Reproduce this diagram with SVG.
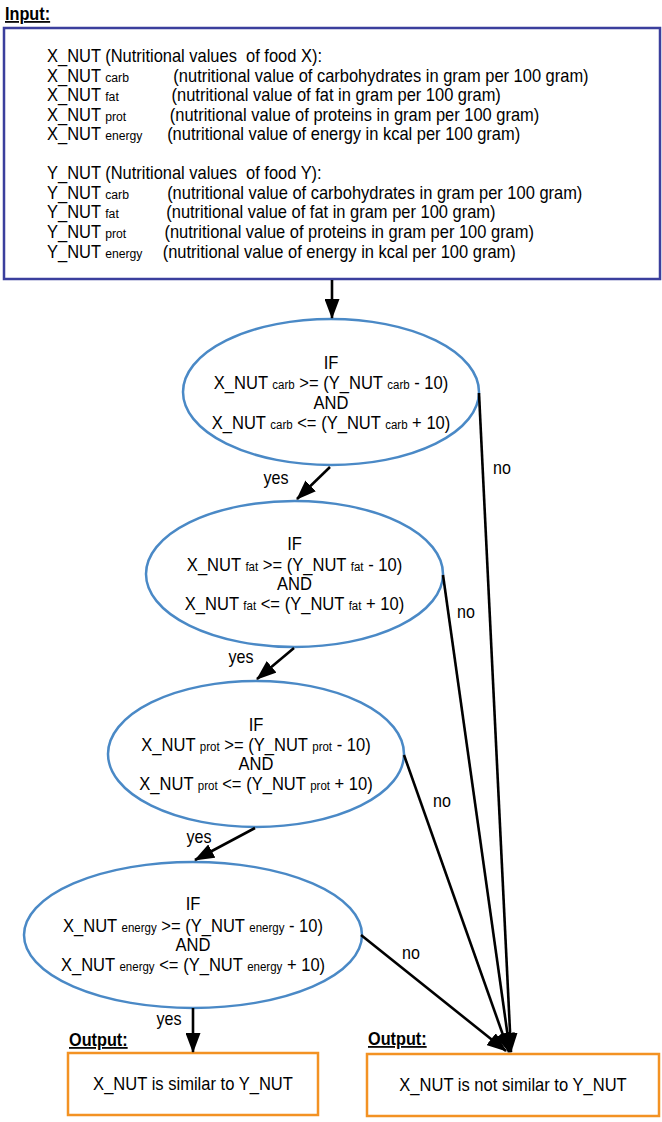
<svg xmlns="http://www.w3.org/2000/svg" width="662" height="1122" viewBox="0 0 662 1122">
  <style>
    text { font-family: "Liberation Sans", Arial, sans-serif; fill: #000; white-space: pre; }
    .hdr { font-size: 17.5px; font-weight: bold; text-decoration: underline; }
    .in { font-size: 18.5px; }
    .insub { font-size: 13.7px; }
    .cond { font-size: 18px; text-anchor: middle; }
    .sub { font-size: 12.5px; }
    .lbl { font-size: 17.5px; text-anchor: middle; }
    .out { font-size: 18px; text-anchor: middle; }
    .inbox { fill: #fff; stroke: #3b3f9d; stroke-width: 2.5; }
    .test { fill: #fff; stroke: #4a89c6; stroke-width: 2.5; }
    .outbox { fill: #fff; stroke: #f39223; stroke-width: 2.5; }
    .edge { fill: none; stroke: #000; stroke-width: 2.6; }
  </style>
  <defs>
    <marker id="head" markerUnits="userSpaceOnUse" markerWidth="20" markerHeight="15" viewBox="0 0 20 15" refX="19" refY="7.5" orient="auto">
      <path d="M0,0 L20,7.5 L0,15 Z" fill="#000"/>
    </marker>
  </defs>

  <!-- input block -->
  <g id="input">
    <text class="hdr" transform="translate(5 20) scale(0.93 1)">Input:</text>
    <rect class="inbox" x="4" y="28" width="656" height="251"/>
    <g transform="matrix(0.89 0 0 1 47 0)">
      <text class="in" x="0" y="62">X_NUT (Nutritional values  of food X):</text>
      <text class="in" x="0" y="82">X_NUT <tspan class="insub">carb</tspan></text>
      <text class="in" x="142" y="82">(nutritional value of carbohydrates in gram per 100 gram)</text>
      <text class="in" x="0" y="101">X_NUT <tspan class="insub">fat</tspan></text>
      <text class="in" x="140" y="101">(nutritional value of fat in gram per 100 gram)</text>
      <text class="in" x="0" y="121">X_NUT <tspan class="insub">prot</tspan></text>
      <text class="in" x="138" y="121">(nutritional value of proteins in gram per 100 gram)</text>
      <text class="in" x="0" y="140">X_NUT <tspan class="insub">energy</tspan></text>
      <text class="in" x="135" y="140">(nutritional value of energy in kcal per 100 gram)</text>

      <text class="in" x="0" y="179">Y_NUT (Nutritional values  of food Y):</text>
      <text class="in" x="0" y="199">Y_NUT <tspan class="insub">carb</tspan></text>
      <text class="in" x="135" y="199">(nutritional value of carbohydrates in gram per 100 gram)</text>
      <text class="in" x="0" y="218">Y_NUT <tspan class="insub">fat</tspan></text>
      <text class="in" x="134" y="218">(nutritional value of fat in gram per 100 gram)</text>
      <text class="in" x="0" y="238">Y_NUT <tspan class="insub">prot</tspan></text>
      <text class="in" x="132" y="238">(nutritional value of proteins in gram per 100 gram)</text>
      <text class="in" x="0" y="258">Y_NUT <tspan class="insub">energy</tspan></text>
      <text class="in" x="130" y="258">(nutritional value of energy in kcal per 100 gram)</text>
    </g>
  </g>

  <!-- decision: carbohydrates -->
  <g id="test-carb">
    <ellipse class="test" cx="331" cy="392" rx="148" ry="73"/>
    <g transform="translate(331 0) scale(0.92 1)">
      <text class="cond" x="0" y="369">IF</text>
      <text class="cond" x="0" y="389">X_NUT <tspan class="sub">carb</tspan> &gt;= (Y_NUT <tspan class="sub">carb</tspan> - 10)</text>
      <text class="cond" x="0" y="409">AND</text>
      <text class="cond" x="0" y="429">X_NUT <tspan class="sub">carb</tspan> &lt;= (Y_NUT <tspan class="sub">carb</tspan> + 10)</text>
    </g>
  </g>

  <!-- decision: fat -->
  <g id="test-fat">
    <ellipse class="test" cx="294.5" cy="574" rx="148.5" ry="73"/>
    <g transform="translate(294.5 0) scale(0.92 1)">
      <text class="cond" x="0" y="550">IF</text>
      <text class="cond" x="0" y="571">X_NUT <tspan class="sub">fat</tspan> &gt;= (Y_NUT <tspan class="sub">fat</tspan> - 10)</text>
      <text class="cond" x="0" y="590">AND</text>
      <text class="cond" x="0" y="610">X_NUT <tspan class="sub">fat</tspan> &lt;= (Y_NUT <tspan class="sub">fat</tspan> + 10)</text>
    </g>
  </g>

  <!-- decision: proteins -->
  <g id="test-prot">
    <ellipse class="test" cx="256" cy="754" rx="148" ry="73"/>
    <g transform="translate(256 0) scale(0.92 1)">
      <text class="cond" x="0" y="731">IF</text>
      <text class="cond" x="0" y="751">X_NUT <tspan class="sub">prot</tspan> &gt;= (Y_NUT <tspan class="sub">prot</tspan> - 10)</text>
      <text class="cond" x="0" y="770">AND</text>
      <text class="cond" x="0" y="790">X_NUT <tspan class="sub">prot</tspan> &lt;= (Y_NUT <tspan class="sub">prot</tspan> + 10)</text>
    </g>
  </g>

  <!-- decision: energy -->
  <g id="test-energy">
    <ellipse class="test" cx="193" cy="935" rx="169" ry="73"/>
    <g transform="translate(193 0) scale(0.92 1)">
      <text class="cond" x="0" y="910">IF</text>
      <text class="cond" x="0" y="932">X_NUT <tspan class="sub">energy</tspan> &gt;= (Y_NUT <tspan class="sub">energy</tspan> - 10)</text>
      <text class="cond" x="0" y="951">AND</text>
      <text class="cond" x="0" y="971">X_NUT <tspan class="sub">energy</tspan> &lt;= (Y_NUT <tspan class="sub">energy</tspan> + 10)</text>
    </g>
  </g>

  <!-- results -->
  <g id="out-similar">
    <text class="hdr" transform="translate(69 1046) scale(0.93 1)">Output:</text>
    <rect class="outbox" x="68" y="1053" width="250" height="62"/>
    <text class="out" transform="translate(193 1090) scale(0.92 1)">X_NUT is similar to Y_NUT</text>
  </g>
  <g id="out-not-similar">
    <text class="hdr" transform="translate(368 1045) scale(0.93 1)">Output:</text>
    <rect class="outbox" x="367" y="1054" width="292" height="62"/>
    <text class="out" transform="translate(513 1091) scale(0.92 1)">X_NUT is not similar to Y_NUT</text>
  </g>

  <!-- connectors -->
  <g id="connectors">
    <line class="edge" x1="332" y1="280" x2="332" y2="318" marker-end="url(#head)"/>

    <line class="edge" x1="330" y1="467" x2="297" y2="499" marker-end="url(#head)"/>
    <line class="edge" x1="294" y1="648" x2="257" y2="679" marker-end="url(#head)"/>
    <line class="edge" x1="255" y1="828" x2="195" y2="860" marker-end="url(#head)"/>
    <line class="edge" x1="193" y1="1008" x2="193" y2="1052" marker-end="url(#head)"/>

    <line class="edge" x1="479" y1="393" x2="511" y2="1052" marker-end="url(#head)"/>
    <line class="edge" x1="443" y1="575" x2="510" y2="1052" marker-end="url(#head)"/>
    <line class="edge" x1="404" y1="755" x2="509" y2="1052" marker-end="url(#head)"/>
    <line class="edge" x1="361" y1="935" x2="506" y2="1051" marker-end="url(#head)"/>

    <text class="lbl" transform="translate(276 484) scale(0.92 1)">yes</text>
    <text class="lbl" transform="translate(241 663) scale(0.92 1)">yes</text>
    <text class="lbl" transform="translate(199 843) scale(0.92 1)">yes</text>
    <text class="lbl" transform="translate(169 1025) scale(0.92 1)">yes</text>

    <text class="lbl" transform="translate(502 474) scale(0.92 1)">no</text>
    <text class="lbl" transform="translate(466 618) scale(0.92 1)">no</text>
    <text class="lbl" transform="translate(442 807) scale(0.92 1)">no</text>
    <text class="lbl" transform="translate(411 959) scale(0.92 1)">no</text>
  </g>
</svg>
